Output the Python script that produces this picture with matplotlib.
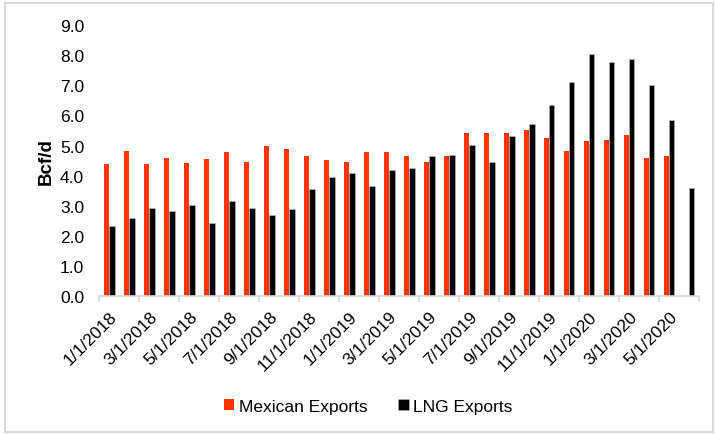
import numpy as np
import matplotlib.pyplot as plt
from matplotlib.patches import Rectangle

plt.rcParams['font.family'] = ['Liberation Sans', 'DejaVu Sans']

months = [f'{m}/1/{y}' for y in (2018, 2019, 2020) for m in range(1, 13)][:30]

mexican = [4.39, 4.83, 4.39, 4.58, 4.41, 4.55, 4.80, 4.45, 4.97, 4.87, 4.65, 4.51,
           4.45, 4.80, 4.80, 4.65, 4.45, 4.65, 5.41, 5.41, 5.41, 5.50, 5.24, 4.83,
           5.14, 5.18, 5.34, 4.58, 4.65, np.nan]
lng = [2.32, 2.61, 2.92, 2.83, 3.02, 2.42, 3.15, 2.92, 2.71, 2.88, 3.56, 3.95,
       4.08, 3.65, 4.20, 4.24, 4.65, 4.70, 5.02, 4.45, 5.31, 5.72, 6.33, 7.10,
       8.05, 7.76, 7.86, 7.00, 5.85, 3.59]

red = '#FF3300'

def main():
    fig = plt.figure(figsize=(7.15, 4.35), dpi=100)
    fig.patches.append(Rectangle((0.007, 0.005), 0.99, 0.985, transform=fig.transFigure,
                                 fill=False, edgecolor='#D9D9D9', linewidth=1.5))
    ax = fig.add_axes([0.139, 0.317, 0.839, 0.623])

    x = np.arange(len(months))
    w = 0.26
    ax.bar(x - w / 2, mexican, width=w, color=red, label='Mexican Exports')
    ax.bar(x + w / 2, lng, width=w, color='black', edgecolor='#BFBFBF', linewidth=0.4,
           label='LNG Exports')

    ax.set_xlim(-0.5, len(months) - 0.5)
    ax.set_ylim(0, 9)
    ax.set_yticks(np.arange(0, 9.1, 1))
    ax.set_yticklabels([f'{v:.1f}' for v in np.arange(0, 9.1, 1)], fontsize=12.5)
    ax.tick_params(axis='y', length=0, pad=11)

    ax.set_xticks(np.arange(-0.5, len(months), 2))
    ax.set_xticklabels([])
    ax.tick_params(axis='x', which='major', length=4, color='#D9D9D9', width=1.2)
    ax.set_xticks(x[::2], minor=True)
    ax.set_xticklabels(months[::2], minor=True, rotation=45, ha='right',
                       rotation_mode='anchor', fontsize=12.5)
    ax.tick_params(axis='x', which='minor', length=0, pad=9)

    for s in ['top', 'right', 'left']:
        ax.spines[s].set_visible(False)
    ax.spines['bottom'].set_color('#D9D9D9')
    ax.spines['bottom'].set_linewidth(1.2)

    ax.set_ylabel('Bcf/d', fontsize=13.5, fontweight='bold', labelpad=4)

    fig.legend(loc='center', bbox_to_anchor=(0.515, 0.063), ncol=2, frameon=False,
               fontsize=12.5, handlelength=0.6, handleheight=0.6, handletextpad=0.25,
               columnspacing=1.8)

    fig.savefig('out.png', dpi=100)


if __name__ == '__main__':
    main()
